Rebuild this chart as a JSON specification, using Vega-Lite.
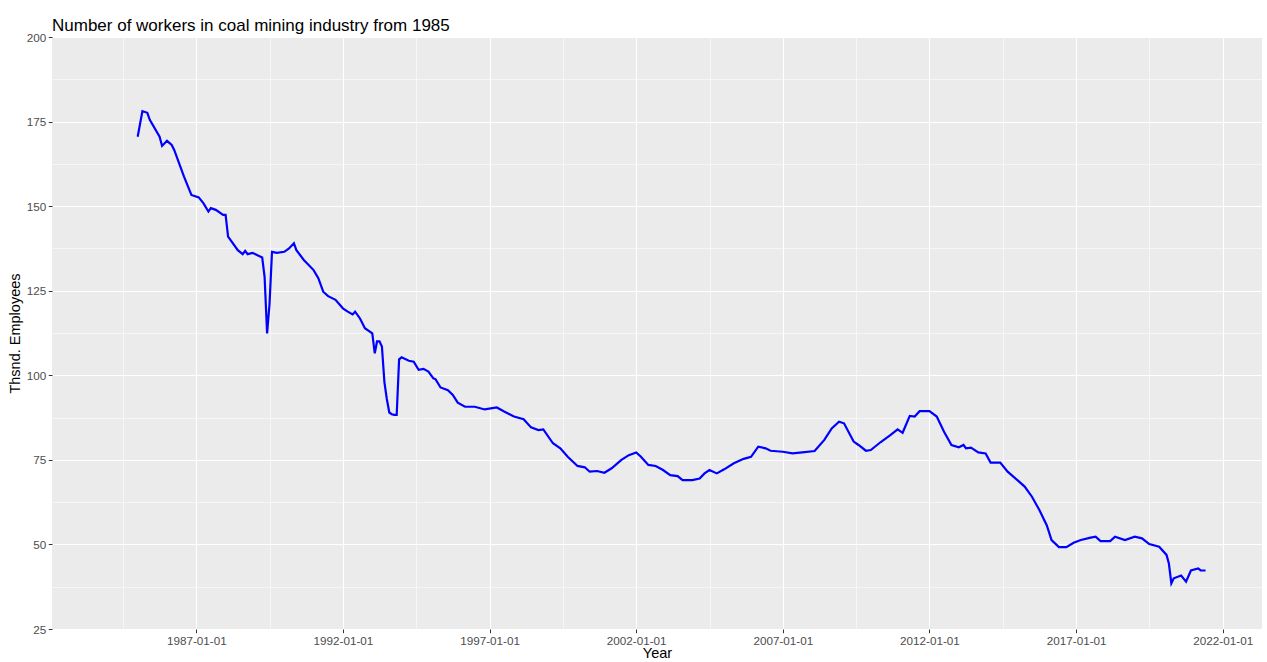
{
  "$schema": "https://vega.github.io/schema/vega-lite/v6.json",
  "width": 1210,
  "height": 592,
  "autosize": "none",
  "padding": {"left": 52, "top": 37, "right": 5, "bottom": 33},
  "background": "white",
  "title": {
    "text": "Number of workers in coal mining industry from 1985",
    "anchor": "start",
    "frame": "group",
    "font": "Liberation Sans",
    "fontSize": 17,
    "fontWeight": "normal",
    "color": "#000000",
    "baseline": "alphabetic",
    "offset": 9,
    "dy": 25
  },
  "config": {
    "view": {"fill": "#EBEBEB", "stroke": null},
    "axis": {
      "domain": false,
      "labelFont": "Liberation Sans",
      "labelFontSize": 11.7,
      "labelColor": "#4D4D4D",
      "titleFont": "Liberation Sans",
      "titleFontSize": 14.5,
      "titleFontWeight": "normal",
      "titleColor": "#000000",
      "tickSize": 3.7,
      "tickWidth": 1,
      "labelPadding": 2.5,
      "gridColor": "#FFFFFF"
    }
  },
  "data": {
    "values": [
      {"date": "1985-01-01", "employees": 170.5},
      {"date": "1985-03-01", "employees": 178.1},
      {"date": "1985-05-01", "employees": 177.6},
      {"date": "1985-06-01", "employees": 175.5},
      {"date": "1985-10-01", "employees": 170.5},
      {"date": "1985-11-01", "employees": 167.8},
      {"date": "1986-01-01", "employees": 169.3},
      {"date": "1986-03-01", "employees": 168.1},
      {"date": "1986-04-01", "employees": 166.6},
      {"date": "1986-08-01", "employees": 158.7},
      {"date": "1986-11-01", "employees": 153.3},
      {"date": "1987-02-01", "employees": 152.6},
      {"date": "1987-04-01", "employees": 150.8},
      {"date": "1987-06-01", "employees": 148.4},
      {"date": "1987-07-01", "employees": 149.4},
      {"date": "1987-09-01", "employees": 148.9},
      {"date": "1987-12-01", "employees": 147.4},
      {"date": "1988-01-01", "employees": 147.4},
      {"date": "1988-02-01", "employees": 141.0},
      {"date": "1988-06-01", "employees": 137.0},
      {"date": "1988-08-01", "employees": 135.8},
      {"date": "1988-09-01", "employees": 136.8},
      {"date": "1988-10-01", "employees": 135.8},
      {"date": "1988-12-01", "employees": 136.2},
      {"date": "1989-02-01", "employees": 135.5},
      {"date": "1989-04-01", "employees": 134.8},
      {"date": "1989-05-01", "employees": 129.0},
      {"date": "1989-06-01", "employees": 112.4},
      {"date": "1989-07-01", "employees": 121.0},
      {"date": "1989-08-01", "employees": 136.5},
      {"date": "1989-10-01", "employees": 136.2},
      {"date": "1990-01-01", "employees": 136.5},
      {"date": "1990-03-01", "employees": 137.5},
      {"date": "1990-05-01", "employees": 139.0},
      {"date": "1990-06-01", "employees": 137.0},
      {"date": "1990-09-01", "employees": 134.1},
      {"date": "1991-01-01", "employees": 131.1},
      {"date": "1991-03-01", "employees": 128.7},
      {"date": "1991-05-01", "employees": 124.7},
      {"date": "1991-07-01", "employees": 123.4},
      {"date": "1991-10-01", "employees": 122.3},
      {"date": "1992-01-01", "employees": 119.8},
      {"date": "1992-03-01", "employees": 118.8},
      {"date": "1992-05-01", "employees": 118.0},
      {"date": "1992-06-01", "employees": 118.8},
      {"date": "1992-08-01", "employees": 116.8},
      {"date": "1992-10-01", "employees": 113.9},
      {"date": "1993-01-01", "employees": 112.4},
      {"date": "1993-02-01", "employees": 106.5},
      {"date": "1993-03-01", "employees": 110.0},
      {"date": "1993-04-01", "employees": 110.0},
      {"date": "1993-05-01", "employees": 108.5},
      {"date": "1993-06-01", "employees": 98.0},
      {"date": "1993-07-01", "employees": 93.0},
      {"date": "1993-08-01", "employees": 89.0},
      {"date": "1993-09-01", "employees": 88.5},
      {"date": "1993-10-01", "employees": 88.3},
      {"date": "1993-11-01", "employees": 88.3},
      {"date": "1993-12-01", "employees": 104.7},
      {"date": "1994-01-01", "employees": 105.3},
      {"date": "1994-04-01", "employees": 104.3},
      {"date": "1994-06-01", "employees": 104.0},
      {"date": "1994-08-01", "employees": 101.6},
      {"date": "1994-10-01", "employees": 101.9},
      {"date": "1994-12-01", "employees": 101.1},
      {"date": "1995-02-01", "employees": 99.1},
      {"date": "1995-03-01", "employees": 98.8},
      {"date": "1995-05-01", "employees": 96.4},
      {"date": "1995-08-01", "employees": 95.6},
      {"date": "1995-10-01", "employees": 94.2},
      {"date": "1995-12-01", "employees": 91.9},
      {"date": "1996-03-01", "employees": 90.7},
      {"date": "1996-07-01", "employees": 90.7},
      {"date": "1996-11-01", "employees": 89.9},
      {"date": "1997-04-01", "employees": 90.5},
      {"date": "1997-07-01", "employees": 89.3},
      {"date": "1997-11-01", "employees": 87.8},
      {"date": "1998-03-01", "employees": 87.0},
      {"date": "1998-06-01", "employees": 84.6},
      {"date": "1998-09-01", "employees": 83.8},
      {"date": "1998-11-01", "employees": 84.0},
      {"date": "1999-03-01", "employees": 79.9},
      {"date": "1999-06-01", "employees": 78.4},
      {"date": "1999-09-01", "employees": 75.9},
      {"date": "2000-01-01", "employees": 73.2},
      {"date": "2000-04-01", "employees": 72.8},
      {"date": "2000-06-01", "employees": 71.5},
      {"date": "2000-09-01", "employees": 71.7},
      {"date": "2000-12-01", "employees": 71.2},
      {"date": "2001-03-01", "employees": 72.5},
      {"date": "2001-07-01", "employees": 75.0},
      {"date": "2001-10-01", "employees": 76.4},
      {"date": "2002-01-01", "employees": 77.2},
      {"date": "2002-03-01", "employees": 75.9},
      {"date": "2002-06-01", "employees": 73.5},
      {"date": "2002-09-01", "employees": 73.2},
      {"date": "2002-12-01", "employees": 72.0},
      {"date": "2003-03-01", "employees": 70.5},
      {"date": "2003-06-01", "employees": 70.2},
      {"date": "2003-08-01", "employees": 69.0},
      {"date": "2003-12-01", "employees": 69.0},
      {"date": "2004-03-01", "employees": 69.5},
      {"date": "2004-05-01", "employees": 71.0},
      {"date": "2004-07-01", "employees": 72.0},
      {"date": "2004-10-01", "employees": 71.0},
      {"date": "2005-01-01", "employees": 72.2},
      {"date": "2005-05-01", "employees": 74.0},
      {"date": "2005-09-01", "employees": 75.3},
      {"date": "2005-12-01", "employees": 75.9},
      {"date": "2006-03-01", "employees": 78.9},
      {"date": "2006-06-01", "employees": 78.4},
      {"date": "2006-08-01", "employees": 77.7},
      {"date": "2007-01-01", "employees": 77.4},
      {"date": "2007-05-01", "employees": 76.9},
      {"date": "2007-09-01", "employees": 77.2},
      {"date": "2008-02-01", "employees": 77.6},
      {"date": "2008-06-01", "employees": 80.9},
      {"date": "2008-09-01", "employees": 84.3},
      {"date": "2008-12-01", "employees": 86.3},
      {"date": "2009-02-01", "employees": 85.8},
      {"date": "2009-06-01", "employees": 80.4},
      {"date": "2009-08-01", "employees": 79.4},
      {"date": "2009-11-01", "employees": 77.7},
      {"date": "2010-01-01", "employees": 77.9},
      {"date": "2010-05-01", "employees": 80.2},
      {"date": "2010-09-01", "employees": 82.3},
      {"date": "2010-12-01", "employees": 84.0},
      {"date": "2011-02-01", "employees": 83.0},
      {"date": "2011-05-01", "employees": 88.0},
      {"date": "2011-07-01", "employees": 87.8},
      {"date": "2011-09-01", "employees": 89.4},
      {"date": "2012-01-01", "employees": 89.4},
      {"date": "2012-04-01", "employees": 87.8},
      {"date": "2012-07-01", "employees": 83.3},
      {"date": "2012-10-01", "employees": 79.4},
      {"date": "2013-01-01", "employees": 78.7},
      {"date": "2013-03-01", "employees": 79.4},
      {"date": "2013-04-01", "employees": 78.4},
      {"date": "2013-06-01", "employees": 78.6},
      {"date": "2013-09-01", "employees": 77.2},
      {"date": "2013-12-01", "employees": 76.9},
      {"date": "2014-02-01", "employees": 74.2},
      {"date": "2014-06-01", "employees": 74.2},
      {"date": "2014-09-01", "employees": 71.5},
      {"date": "2015-01-01", "employees": 69.0},
      {"date": "2015-04-01", "employees": 67.1},
      {"date": "2015-07-01", "employees": 64.1},
      {"date": "2015-10-01", "employees": 60.2},
      {"date": "2016-01-01", "employees": 55.7},
      {"date": "2016-03-01", "employees": 51.3},
      {"date": "2016-06-01", "employees": 49.2},
      {"date": "2016-09-01", "employees": 49.2},
      {"date": "2016-12-01", "employees": 50.5},
      {"date": "2017-03-01", "employees": 51.3},
      {"date": "2017-07-01", "employees": 52.0},
      {"date": "2017-09-01", "employees": 52.3},
      {"date": "2017-11-01", "employees": 51.0},
      {"date": "2018-03-01", "employees": 51.0},
      {"date": "2018-05-01", "employees": 52.3},
      {"date": "2018-09-01", "employees": 51.3},
      {"date": "2019-01-01", "employees": 52.3},
      {"date": "2019-04-01", "employees": 51.8},
      {"date": "2019-07-01", "employees": 50.1},
      {"date": "2019-11-01", "employees": 49.3},
      {"date": "2020-02-01", "employees": 46.9},
      {"date": "2020-03-01", "employees": 44.4},
      {"date": "2020-04-01", "employees": 38.5},
      {"date": "2020-05-01", "employees": 40.0},
      {"date": "2020-08-01", "employees": 40.8},
      {"date": "2020-10-01", "employees": 39.0},
      {"date": "2020-12-01", "employees": 42.3},
      {"date": "2021-03-01", "employees": 42.9},
      {"date": "2021-04-01", "employees": 42.3},
      {"date": "2021-06-01", "employees": 42.3}
    ]
  },
  "mark": {"type": "line", "color": "#0000FF", "strokeWidth": 2.2, "clip": true},
  "encoding": {
    "x": {
      "field": "date",
      "type": "temporal",
      "title": "Year",
      "scale": {
        "type": "utc",
        "domain": [
          {"year": 1982, "month": 1, "date": 30, "utc": true},
          {"year": 2023, "month": 5, "date": 5, "utc": true}
        ],
        "nice": false
      },
      "axis": {
        "values": [
          {"year": 1984, "month": 7, "date": 2, "utc": true},
          {"year": 1987, "month": 1, "date": 1, "utc": true},
          {"year": 1989, "month": 7, "date": 2, "utc": true},
          {"year": 1992, "month": 1, "date": 1, "utc": true},
          {"year": 1994, "month": 7, "date": 2, "utc": true},
          {"year": 1997, "month": 1, "date": 1, "utc": true},
          {"year": 1999, "month": 7, "date": 2, "utc": true},
          {"year": 2002, "month": 1, "date": 1, "utc": true},
          {"year": 2004, "month": 7, "date": 2, "utc": true},
          {"year": 2007, "month": 1, "date": 1, "utc": true},
          {"year": 2009, "month": 7, "date": 2, "utc": true},
          {"year": 2012, "month": 1, "date": 1, "utc": true},
          {"year": 2014, "month": 7, "date": 2, "utc": true},
          {"year": 2017, "month": 1, "date": 1, "utc": true},
          {"year": 2019, "month": 7, "date": 2, "utc": true},
          {"year": 2022, "month": 1, "date": 1, "utc": true}
        ],
        "labelExpr": "utcmonth(datum.value) == 0 ? utcFormat(datum.value, '%Y-%m-%d') : ''",
        "labelFlush": false,
        "labelOverlap": false,
        "grid": true,
        "gridWidth": {"condition": {"test": "utcmonth(datum.value) == 0", "value": 1.1}, "value": 0.55},
        "tickColor": {"condition": {"test": "utcmonth(datum.value) == 0", "value": "#333333"}, "value": "transparent"},
        "titlePadding": 0
      }
    },
    "y": {
      "field": "employees",
      "type": "quantitative",
      "title": "Thsnd. Employees",
      "scale": {"domain": [25, 200], "nice": false, "zero": false},
      "axis": {
        "values": [25, 37.5, 50, 62.5, 75, 87.5, 100, 112.5, 125, 137.5, 150, 162.5, 175, 187.5, 200],
        "labelExpr": "datum.value % 25 == 0 ? datum.label : ''",
        "labelFlush": false,
        "labelOverlap": false,
        "grid": true,
        "gridWidth": {"condition": {"test": "datum.value % 25 == 0", "value": 1.1}, "value": 0.55},
        "tickColor": {"condition": {"test": "datum.value % 25 == 0", "value": "#333333"}, "value": "transparent"},
        "titlePadding": 4
      }
    }
  }
}
